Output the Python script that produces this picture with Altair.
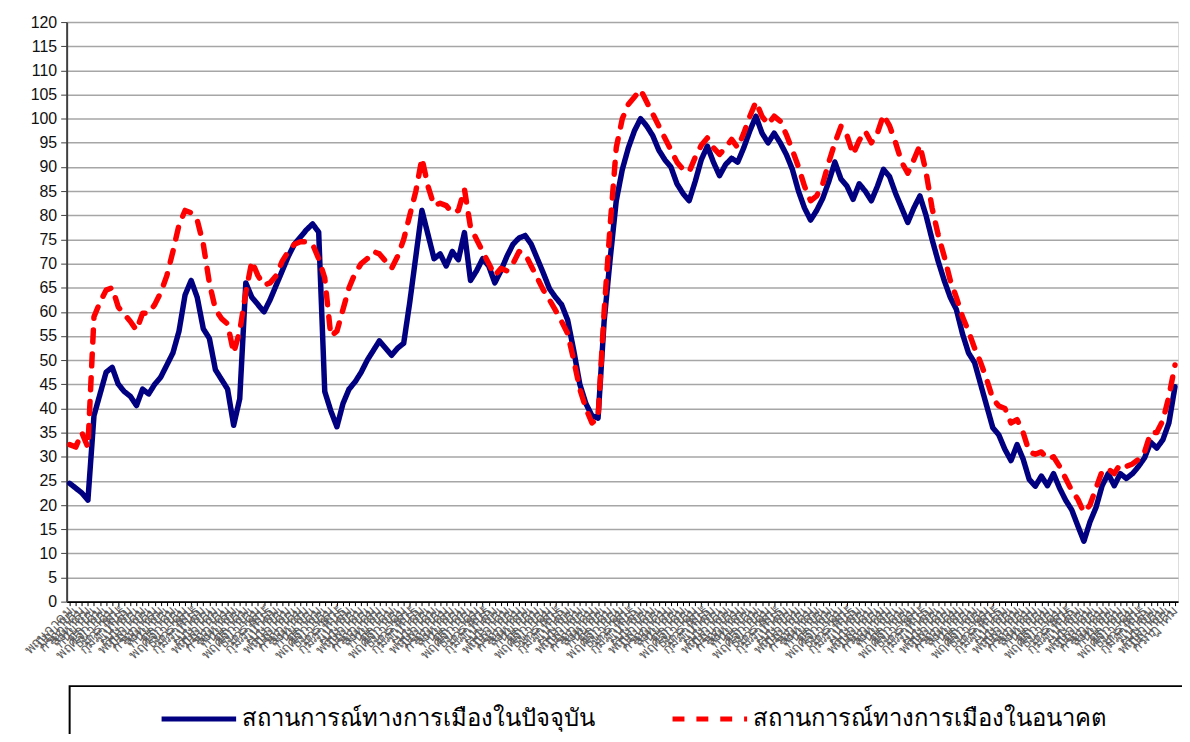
import altair as alt
import pandas as pd

MONTHS_TH = ["มกราคม", "กุมภาพันธ์", "มีนาคม", "เมษายน", "พฤษภาคม", "มิถุนายน",
             "กรกฎาคม", "สิงหาคม", "กันยายน", "ตุลาคม", "พฤศจิกายน", "ธันวาคม"]
START_MONTH = 4  # first label: พฤษภาคม

SERIES = ["สถานการณ์ทางการเมืองในปัจจุบัน", "สถานการณ์ทางการเมืองในอนาคต"]

current = [
    24.5, 23.5, 22.5, 21.0, 38.5, 43.0, 47.5, 48.5, 45.0, 43.5,
    42.5, 40.6, 44.0, 43.0, 45.0, 46.5, 49.0, 51.5, 56.0, 63.5,
    66.5, 63.0, 56.5, 54.5, 48.0, 46.0, 44.0, 36.5, 42.0, 66.0,
    63.0, 61.5, 60.0, 62.5, 65.5, 68.5, 71.5, 74.0, 75.5, 77.0,
    78.2, 76.5, 43.5, 39.5, 36.2, 41.0, 44.0, 45.5, 47.5, 50.0,
    52.0, 54.0, 52.5, 51.0, 52.5, 53.5, 62.0, 71.5, 81.0, 76.0,
    71.0, 72.0, 69.5, 72.5, 70.8, 76.4, 66.5, 68.5, 71.0, 69.5,
    66.0, 68.5, 71.5, 74.0, 75.3, 75.8, 74.0, 71.0, 68.0, 64.8,
    63.0, 61.5, 58.3, 52.0, 45.0, 41.0, 38.5, 38.0, 58.0, 71.0,
    83.0, 89.5, 94.0, 97.5, 100.0, 98.5, 96.5, 93.5, 91.5, 90.0,
    86.5, 84.5, 83.0, 87.0, 91.5, 94.3, 91.0, 88.2, 90.5, 91.8,
    91.0, 94.0, 97.5, 100.5, 97.0, 95.0, 97.0, 95.0, 92.6, 89.5,
    85.0, 81.5, 79.0, 81.0, 83.5, 87.0, 91.0, 87.5, 86.0, 83.3,
    86.5, 85.0, 83.0, 86.0, 89.5, 88.0, 84.5, 81.5, 78.5, 81.5,
    84.0, 80.0, 75.0, 70.5, 66.5, 63.0, 60.5, 55.5, 51.5, 49.5,
    45.0, 40.5, 36.0, 34.5, 31.5, 29.2, 32.5, 29.5, 25.3, 23.9,
    26.0, 24.0, 26.5, 23.5, 21.0, 19.0, 15.7, 12.5, 16.5, 19.5,
    24.0, 26.5, 24.0, 26.5, 25.5, 26.5, 28.0, 29.8, 33.0, 31.8,
    33.5, 37.0, 44.5,
]

future = [
    32.5, 32.0, 35.0, 32.0, 59.0, 62.0, 64.5, 65.0, 61.0, 59.5,
    58.0, 56.2, 59.7, 59.7, 61.5, 64.0, 67.5, 72.5, 78.0, 81.0,
    80.5, 79.0, 74.0, 66.0, 60.5, 58.6, 57.5, 51.5, 56.0, 64.0,
    70.5, 67.5, 65.5, 66.0, 67.5, 70.5, 72.5, 74.0, 74.5, 74.5,
    74.0, 71.0, 67.0, 55.0, 56.0, 60.5, 65.0, 68.0, 70.0, 71.0,
    72.5, 72.0, 70.5, 69.0, 71.5, 75.0, 80.0, 85.0, 91.8, 86.0,
    82.0, 82.5, 82.0, 80.5, 81.0, 85.4, 77.5, 75.0, 72.5, 70.0,
    67.5, 69.0, 68.5, 70.0, 72.5, 72.0, 69.5, 67.0, 64.5, 62.5,
    60.3, 58.0, 55.5, 50.0, 44.0, 40.0, 37.0, 38.0, 60.0, 78.0,
    94.0, 100.0, 103.0, 104.5, 106.0, 103.5, 101.0, 98.5, 96.0, 93.5,
    91.0, 89.5, 89.0, 92.0, 94.5, 96.0, 94.0, 92.6, 94.0, 95.7,
    94.0, 97.0, 100.5, 103.5, 100.5, 98.8, 100.5, 99.5, 96.7, 93.5,
    90.0, 86.0, 83.0, 84.0, 86.5, 91.0, 95.0, 98.4, 96.5, 92.6,
    95.5, 97.4, 95.0, 97.0, 100.8, 98.5, 95.0, 91.0, 88.7, 91.5,
    94.5, 89.0, 81.5, 76.0, 71.5, 66.5, 63.0, 59.0, 56.0, 52.5,
    49.5, 46.0, 42.0, 40.5, 40.0, 37.0, 37.7, 35.0, 31.0, 30.5,
    31.0, 29.5, 30.0, 28.0, 25.5, 23.0, 21.2, 18.5, 20.0, 23.5,
    27.0, 27.5, 26.5, 28.5, 28.0, 28.5, 29.5, 31.0, 35.0, 35.0,
    37.5, 42.5, 49.0,
]

assert len(current) == len(future)
n = len(current)
labels = [MONTHS_TH[(START_MONTH + i) % 12] for i in range(n)]

rows = []
for s, vals in zip(SERIES, [current, future]):
    for i, v in enumerate(vals):
        rows.append({"idx": i, "value": v, "series": s})
df = pd.DataFrame(rows)

label_expr = "[" + ",".join("'" + l + "'" for l in labels) + "][datum.value]"

legend = alt.Legend(
    title=None, orient="none", legendX=93, legendY=661, direction="horizontal",
    symbolType="stroke", symbolSize=5625, symbolStrokeWidth=5,
    labelFontSize=24, labelColor="#000000", labelLimit=0, labelOffset=3,
    columnPadding=67, padding=0,
)

lines = alt.Chart(df).mark_line(strokeWidth=5.5, strokeCap="round", strokeJoin="round").encode(
    x=alt.X("idx:O", scale=alt.Scale(type="point", padding=0.5),
            axis=alt.Axis(title=None, labelExpr=label_expr, labelAngle=-45,
                          labelAlign="right", labelBaseline="middle",
                          labelOverlap=False, labelFontSize=14, labelColor="#5a5a5a",
                          tickSize=4, tickColor="#000000", domainColor="#000000",
                          domainWidth=2, labelPadding=3, grid=False)),
    y=alt.Y("value:Q", scale=alt.Scale(domain=[0, 120], nice=False),
            axis=alt.Axis(title=None, values=list(range(0, 121, 5)), labelFontSize=16,
                          labelColor="#111111", labelFont="Liberation Sans", tickSize=6,
                          tickColor="#404040", domainColor="#404040", domainWidth=2,
                          labelPadding=4, grid=True, gridColor="#a6a6a6", gridWidth=1.5)),
    color=alt.Color("series:N", scale=alt.Scale(domain=SERIES, range=["#000080", "#ff0000"]),
                    legend=legend),
    strokeDash=alt.StrokeDash("series:N", scale=alt.Scale(domain=SERIES, range=[[1, 0], [12, 12]]),
                              legend=legend),
)

box = alt.Chart(pd.DataFrame({"k": [0]})).mark_rect(filled=False, stroke="#000000", strokeWidth=2).encode(
    x=alt.value(3), x2=alt.value(1160), y=alt.value(668), y2=alt.value(800)
)

chart = alt.layer(lines, box).properties(
    width=1118, height=583,
    autosize=alt.AutoSizeParams(type="none"),
    padding={"left": 59, "top": 12, "right": 4, "bottom": 131},
).configure_view(stroke=None).configure(background="#ffffff")

chart.save("out.html", embed_options={"renderer": "svg", "actions": False})
